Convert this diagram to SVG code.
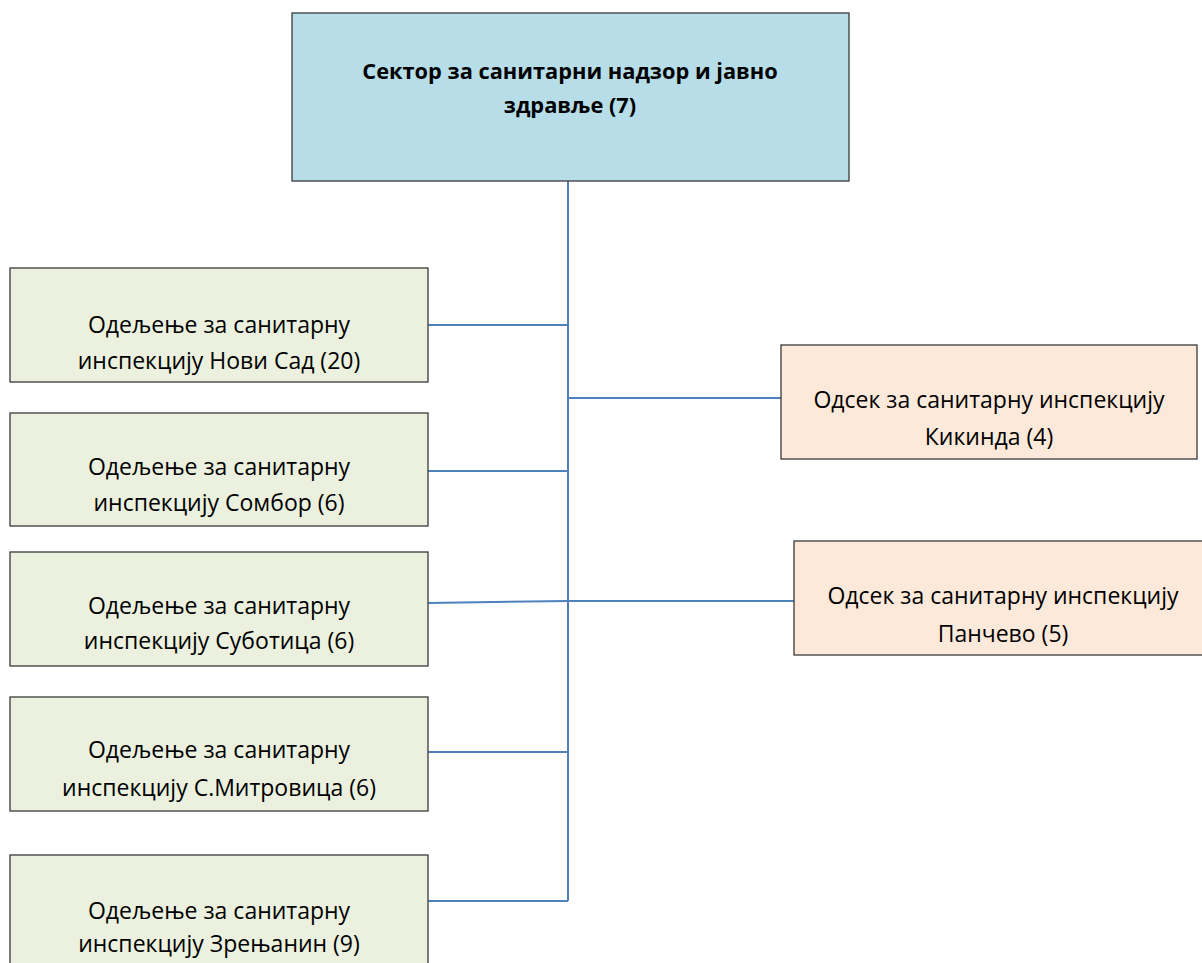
<svg xmlns="http://www.w3.org/2000/svg" width="1202" height="963" viewBox="0 0 1202 963">
<style>
.box{stroke:#3a3a3a;stroke-width:1.3}
.top{fill:#b7dde8}
.dep{fill:#ebf1de}
.sec{fill:#fde9d9}
text{font-family:"Open Sans","Noto Sans",sans-serif;font-size:23px;fill:#000;text-anchor:middle}
.b{font-weight:bold;font-size:21.8px}
.con{stroke:#4f81bd;stroke-width:2;fill:none}
</style>
<rect width="1202" height="963" fill="#fff"/>
<g id="connectors">
<path class="con" d="M568 181V901"/>
<path class="con" d="M428 325H568"/>
<path class="con" d="M568 398H781"/>
<path class="con" d="M428 471H568"/>
<path class="con" d="M428 603L568 601H794"/>
<path class="con" d="M428 752H568"/>
<path class="con" d="M428 901H568"/>
</g>
<g id="n0">
<rect class="box top" x="292" y="13" width="557" height="168"/>
<text class="b" x="570" y="79">Сектор за санитарни надзор и јавно</text>
<text class="b" x="570" y="113">здравље (7)</text>
</g>
<g id="n1">
<rect class="box dep" x="10" y="268" width="418" height="114"/>
<text x="219" y="333">Одељење за санитарну</text>
<text x="219" y="369">инспекцију Нови Сад (20)</text>
</g>
<g id="n2">
<rect class="box dep" x="10" y="413" width="418" height="113"/>
<text x="219" y="475">Одељење за санитарну</text>
<text x="219" y="511">инспекцију Сомбор (6)</text>
</g>
<g id="n3">
<rect class="box dep" x="10" y="552" width="418" height="114"/>
<text x="219" y="614">Одељење за санитарну</text>
<text x="219" y="649">инспекцију Суботица (6)</text>
</g>
<g id="n4">
<rect class="box dep" x="10" y="697" width="418" height="114"/>
<text x="219" y="758">Одељење за санитарну</text>
<text x="219" y="796">инспекцију С.Митровица (6)</text>
</g>
<g id="n5">
<rect class="box dep" x="10" y="855" width="418" height="120"/>
<text x="219" y="919">Одељење за санитарну</text>
<text x="219" y="952">инспекцију Зрењанин (9)</text>
</g>
<g id="n6">
<rect class="box sec" x="781" y="345" width="416" height="114"/>
<text x="989" y="408">Одсек за санитарну инспекцију</text>
<text x="989" y="445">Кикинда (4)</text>
</g>
<g id="n7">
<rect class="box sec" x="794" y="541" width="412" height="114"/>
<text x="1003" y="604">Одсек за санитарну инспекцију</text>
<text x="1003" y="642">Панчево (5)</text>
</g>
</svg>
